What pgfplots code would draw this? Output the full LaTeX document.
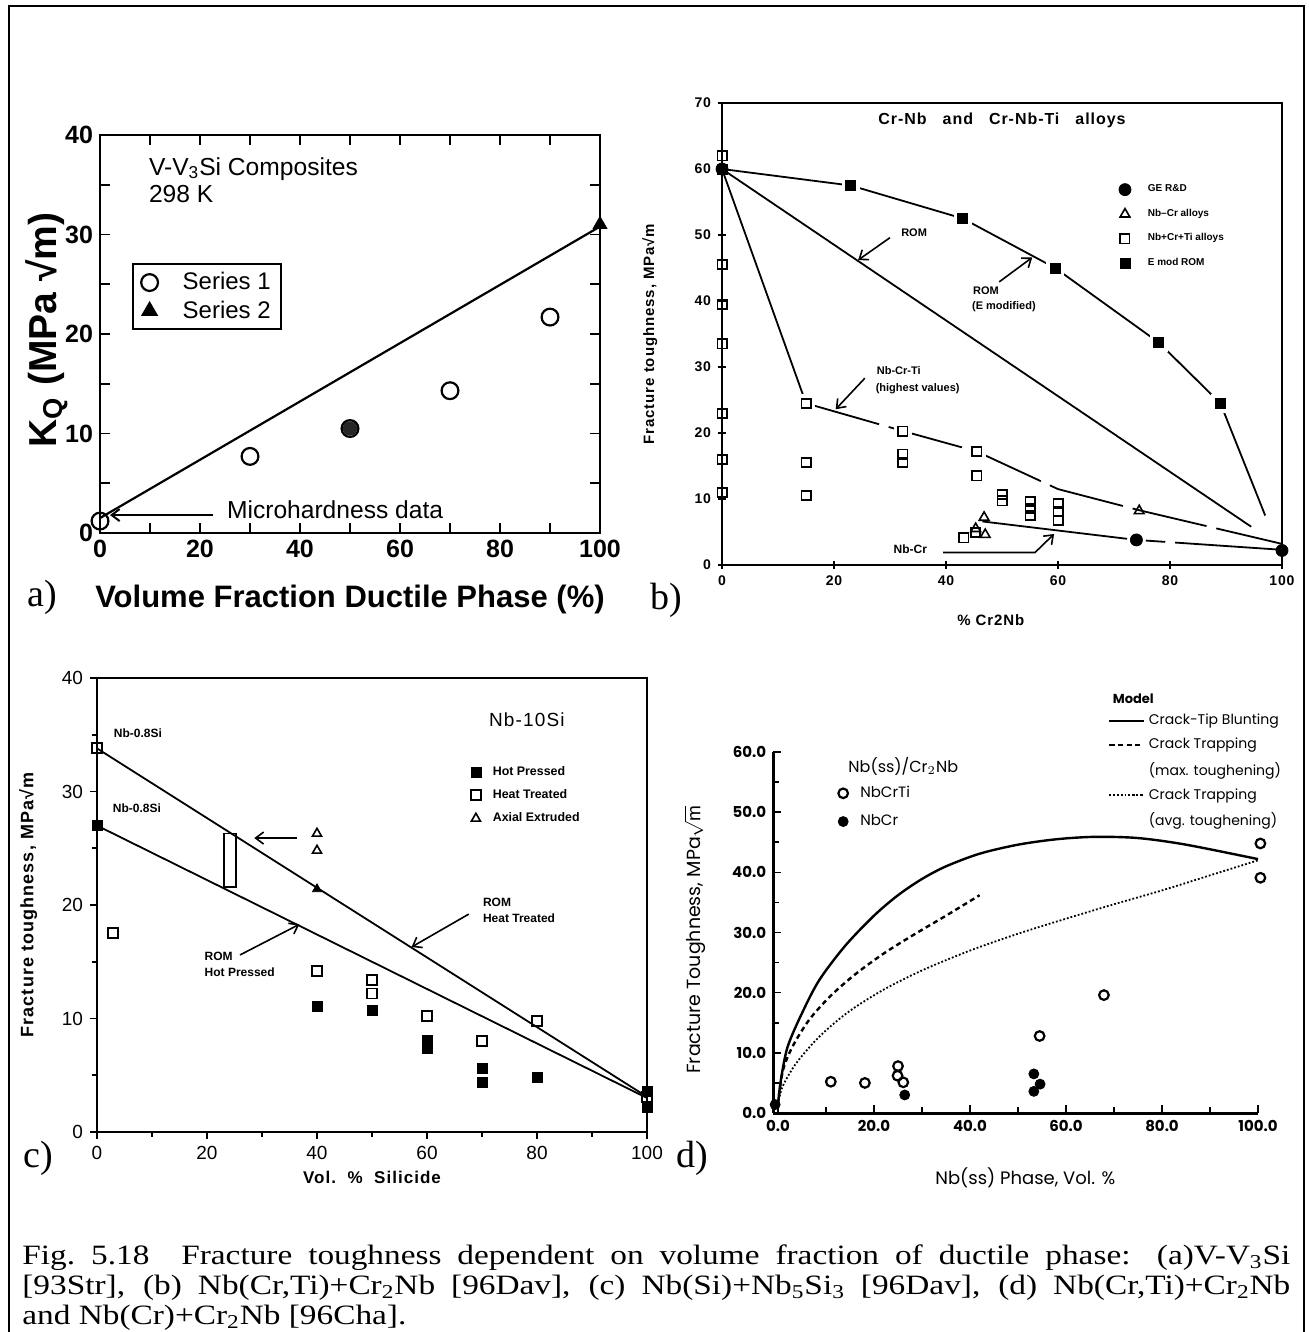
\documentclass[border=0pt]{standalone}
\usepackage{fontspec}
\setmainfont{Liberation Sans}
\newfontfamily\serif{Liberation Serif}
\newfontfamily\capfont[FakeStretch=1.19]{Liberation Serif}
\newfontfamily\geo{Poppins}
\usepackage{pgfplots}
\pgfplotsset{compat=1.18}
\usetikzlibrary{arrows.meta}
\newcommand\fs[1]{\fontsize{#1}{#1}\selectfont}
\newcommand\wide{\addfontfeatures{LetterSpace=6}}
\tikzset{arr/.style={line width=0.8pt,-{Straight Barb[length=4pt,width=6pt]}}}
\pgfplotsset{
 lima/.style={legend image code/.code={\path (0pt,0pt) (19pt,0pt); \draw[##1] plot coordinates {(5pt,0pt)};}},
 limb/.style={legend image code/.code={\path (0pt,0pt) (12pt,0pt); \draw[##1] plot coordinates {(3pt,0pt)};}},
 limc/.style={legend image code/.code={\path (0pt,0pt) (9pt,0pt); \draw[##1] plot coordinates {(3pt,0pt)};}},
}

\begin{document}
\begin{tikzpicture}
\path[use as bounding box] (0pt,0pt) rectangle (654pt,-666pt);
\draw[line width=0.7pt] (4.5pt,-666pt) -- (4.5pt,-3pt) -- (652pt,-3pt) -- (652pt,-666pt);

% ---------- a) V-V3Si
\begin{axis}[at={(50pt,-266.5pt)}, anchor=south west, scale only axis, width=250pt, height=199pt,
 xmin=0,xmax=100,ymin=0,ymax=40, xtick={0,20,...,100}, ytick={0,10,...,40},
 minor x tick num=1, minor y tick num=1, tick align=inside,
 axis line style={line width=1.1pt}, every tick/.style={black,line width=0.9pt},
 major tick length=5pt, minor tick length=5pt,
 /pgf/number format/assume math mode=true,
 ticklabel style={font=\fs{12.5}\bfseries},
 xlabel={Volume Fraction Ductile Phase (\%)}, ylabel={K\textsubscript{Q} (MPa √m)},
 xlabel style={at={(axis description cs:0.5,-0.168)},anchor=center,font=\fs{15.5}\bfseries},
 ylabel style={at={(axis description cs:-0.106,0.51)},anchor=center,font=\fs{19.5}\bfseries},
 clip=false,
 legend style={at={(axis cs:6.3,27.1)},anchor=north west,draw=black,line width=1pt,
   font=\fs{12},inner xsep=3pt,inner ysep=2pt},
 legend cell align=left]
\addplot[only marks, mark=o, mark size=4.2pt, line width=1.1pt, lima] coordinates {(0,1.2)(30,7.7)(50,10.5)(70,14.3)(90,21.7)};
\addlegendentry{Series 1\hspace{14pt}}
\addplot[only marks, mark=triangle*, mark size=4pt, lima] coordinates {(100,31)};
\addlegendentry{Series 2\hspace{14pt}}
\addplot[line width=1.1pt, forget plot] coordinates {(0,1.5)(100,30.8)};
\addplot[only marks, mark=*, mark size=3.4pt, black!85, forget plot] coordinates {(50,10.5)};
\node[anchor=west,font=\fs{12.3}] at (axis cs:8.4,36.6) {V-V\textsubscript{3}Si Composites};
\node[anchor=west,font=\fs{12.3}] at (axis cs:8.4,34.1) {298 K};
\draw[arr,line width=1pt] (axis cs:22.6,1.8) -- (axis cs:2,1.8);
\node[anchor=west,font=\fs{12.3}] at (axis cs:24,2.3) {Microhardness data};
\end{axis}

% ---------- b) Cr-Nb
\begin{axis}[at={(361pt,-282.5pt)}, anchor=south west, scale only axis, width=280pt, height=231pt,
 xmin=0,xmax=100,ymin=0,ymax=70, xtick={0,20,...,100}, ytick={0,10,...,70},
 tick align=center, tick pos=left, major tick length=4pt,
 axis line style={line width=1pt}, every tick/.style={black,line width=0.8pt},
 /pgf/number format/assume math mode=true,
 ticklabel style={font=\fs{7}\bfseries\wide},
 xlabel={\% Cr2Nb}, ylabel={Fracture toughness, MPa√m},
 xlabel style={at={(axis description cs:0.48,-0.119)},anchor=center,font=\fs{7.5}\bfseries\wide},
 ylabel style={at={(axis description cs:-0.129,0.5)},anchor=center,font=\fs{7.5}\bfseries\wide},
 clip=false,
 legend style={at={(axis cs:70.3,58.6)},anchor=north west,draw=none,fill=none,
   font=\fs{5}\bfseries,row sep=3.2pt,inner sep=1pt},
 legend cell align=left]
% lines
\addplot[line width=0.9pt, forget plot] coordinates {(0,60)(23,57.5)(43,52.5)(59.5,45)(78,33.7)(89,24.5)(97,7.5)};
\addplot[line width=0.9pt, forget plot] coordinates {(0,60)(94.5,5.8)};
\addplot[line width=0.9pt, forget plot] coordinates {(0,60)(15,24.5)};
\addplot[line width=0.9pt, dash pattern=on 38pt off 5pt, forget plot] coordinates {(15,24.5)(32.3,20.3)(45.5,17.2)(60,11.5)(74.5,8.3)(100,3.2)};
\addplot[line width=0.9pt, dash pattern=on 75pt off 5pt on 12pt off 5pt, forget plot] coordinates {(46.5,6.6)(74,3.8)(100,2.3)};
% white halos where the lines meet the marks
\addplot[only marks, mark=square*, mark size=4.3pt, white, forget plot] coordinates {(23,57.5)(43,52.5)(59.5,45)(78,33.7)(89,24.5)(15,24.5)(32.3,20.3)(45.5,17.2)};
\addplot[only marks, mark=*, mark size=4.5pt, white, forget plot] coordinates {(74,3.8)};
% marks
\addplot[only marks, mark=*, mark size=3pt, limb] coordinates {(0,60)(74,3.8)(100,2.2)};
\addlegendentry{GE R\&D}
\addplot[only marks, mark=triangle, mark size=2.8pt, line width=0.8pt, limb] coordinates {(46.8,7.2)(45.3,5.5)(47,4.6)(74.5,8.2)};
\addlegendentry{Nb--Cr alloys}
\addplot[only marks, mark=square, mark size=2.3pt, line width=0.9pt, limb] coordinates {
 (0,62)(0,45.5)(0,39.5)(0,33.5)(0,23)(0,16)(0,11)
 (15,24.5)(15,15.5)(15,10.5)(32.3,20.3)(32.3,16.8)(32.3,15.6)
 (45.5,17.2)(45.5,13.5)(43.2,4.1)(45.3,4.9)(50,10.7)(50,9.7)
 (55,9.6)(55,8.6)(55,7.5)(60,9.3)(60,8.1)(60,6.8)};
\addlegendentry{Nb+Cr+Ti alloys}
\addplot[only marks, mark=square*, mark size=2.5pt, limb] coordinates {(0,60)(23,57.5)(43,52.5)(59.5,45)(78,33.7)(89,24.5)};
\addlegendentry{E mod ROM}
\node[font=\fs{8}\bfseries\wide] at (axis cs:50,67.3) {Cr-Nb\quad and\quad Cr-Nb-Ti\quad alloys};
\node[font=\fs{5.5}\bfseries] at (axis cs:34.3,50.4) {ROM};
\draw[arr] (axis cs:30,49.6) -- (axis cs:24.3,46.2);
\node[anchor=west,font=\fs{5.5}\bfseries] at (axis cs:43.6,41.6) {ROM};
\node[anchor=west,font=\fs{5.5}\bfseries] at (axis cs:43.4,39.1) {(E modified)};
\draw[arr] (axis cs:49.5,42.9) -- (axis cs:55.4,46.6);
\node[anchor=west,font=\fs{5.5}\bfseries] at (axis cs:26.4,29.5) {Nb-Cr-Ti};
\node[anchor=west,font=\fs{5.5}\bfseries] at (axis cs:26.2,26.7) {(highest values)};
\draw[arr] (axis cs:25.5,28.3) -- (axis cs:20.3,23.6);
\node[anchor=west,font=\fs{6}\bfseries] at (axis cs:29.4,2.4) {Nb-Cr};
\draw[arr] (axis cs:39.5,1.9) -- (axis cs:55.9,1.9) -- (axis cs:59.3,4.7);
\end{axis}
\node[font=\serif\fs{19}] at (333pt,-300pt) {b)};
\node[font=\serif\fs{19}] at (21pt,-298.5pt) {a)};

% ---------- c) Nb-10Si
\begin{axis}[at={(48.5pt,-566pt)}, anchor=south west, scale only axis, width=275pt, height=227pt,
 xmin=0,xmax=100,ymin=0,ymax=40, xtick={0,20,...,100}, ytick={0,10,...,40},
 minor x tick num=1, minor y tick num=1, tick align=outside, tick pos=left,
 major tick length=3.5pt, minor tick length=2.5pt,
 axis line style={line width=0.9pt}, every tick/.style={black,line width=0.8pt},
 /pgf/number format/assume math mode=true,
 ticklabel style={font=\fs{9.5}},
 xlabel={Vol.\ \ \%\ \ Silicide}, ylabel={Fracture toughness, MPa√m},
 xlabel style={at={(axis description cs:0.5,-0.101)},anchor=center,font=\fs{8.5}\bfseries\wide},
 ylabel style={at={(axis description cs:-0.125,0.5)},anchor=center,font=\fs{9}\bfseries\wide},
 clip=false,
 legend style={at={(axis cs:67.2,32.8)},anchor=north west,draw=none,fill=none,
   font=\fs{6.2}\bfseries,row sep=1.6pt,inner sep=1pt},
 legend cell align=left]
\addplot[line width=0.9pt, forget plot] coordinates {(0,33.8)(100,3.1)};
\addplot[line width=0.9pt, forget plot] coordinates {(0,27)(100,3.0)};
\addplot[only marks, mark=square*, mark size=2.5pt, limc] coordinates {(0,27)(40,11.1)(50,10.7)(60,8.1)(60,7.4)(70,5.6)(70,4.4)(80,4.8)(100,3.6)(100,2.2)};
\addlegendentry{Hot Pressed}
\addplot[only marks, mark=square, mark size=2.5pt, line width=0.9pt, fill=white, limc] coordinates {(0,33.8)(2.9,17.5)(40,14.2)(50,13.4)(50,12.2)(60,10.2)(70,8.0)(80,9.8)(100,3.1)};
\addlegendentry{Heat Treated}
\addplot[only marks, mark=triangle, mark size=2.6pt, line width=0.8pt, limc] coordinates {(40,26.3)(40,24.8)};
\addlegendentry{Axial Extruded}
\addplot[only marks, mark=triangle*, mark size=2.6pt, forget plot] coordinates {(40,21.4)};
\draw[line width=0.8pt] (axis cs:23.1,21.6) rectangle (axis cs:25.3,26.3);
\draw[arr] (axis cs:36.4,25.9) -- (axis cs:28.6,25.9);
\node[anchor=west,font=\fs{6}\bfseries] at (axis cs:1.8,35.1) {Nb-0.8Si};
\node[anchor=west,font=\fs{6}\bfseries] at (axis cs:1.6,28.5) {Nb-0.8Si};
\node[anchor=west,font=\fs{9.5}\wide] at (axis cs:70,36.3) {Nb-10Si};
\node[anchor=west,font=\fs{6}\bfseries] at (axis cs:68.9,20.2) {ROM};
\node[anchor=west,font=\fs{6}\bfseries] at (axis cs:68.9,18.8) {Heat Treated};
\draw[arr] (axis cs:67.6,19.2) -- (axis cs:57.2,16.3);
\node[anchor=west,font=\fs{6}\bfseries] at (axis cs:18.3,15.5) {ROM};
\node[anchor=west,font=\fs{6}\bfseries] at (axis cs:18.3,14.1) {Hot Pressed};
\draw[arr] (axis cs:26,15.6) -- (axis cs:36.8,18.3);
\end{axis}
\node[font=\serif\fs{19}] at (19pt,-579pt) {c)};

% ---------- d) Nb(ss)/Cr2Nb : data points
\begin{axis}[at={(386.6pt,-556.5pt)}, anchor=south west, scale only axis, width=242.4pt, height=180.5pt,
 xmin=-1,xmax=100,ymin=0,ymax=60, xtick={0,20,...,100}, ytick={0,10,...,60},
 minor x tick num=1, minor y tick num=1, tick align=inside,
 axis x line*=bottom, axis y line*=left, axis line style={line width=1.5pt,-},
 major tick length=4pt, minor tick length=3pt, every tick/.style={black,line width=0.8pt},
 /pgf/number format/assume math mode=true,
 xticklabel style={font=\geo\fs{7.5}\bfseries,/pgf/number format/.cd,fixed,fixed zerofill,precision=1},
 yticklabel style={font=\geo\fs{7.5}\bfseries,/pgf/number format/.cd,fixed,fixed zerofill,precision=1},
 xlabel={Nb(ss) Phase, Vol. \%}, ylabel={Fracture Toughness, MPa$\sqrt{\mathrm{m}}$},
 xlabel style={at={(axis description cs:0.52,-0.18)},anchor=center,font=\geo\fs{9}},
 ylabel style={at={(axis description cs:-0.161,0.48)},anchor=center,font=\geo\fs{9.5}},
 clip=false,
 legend style={at={(axis cs:11.6,55.4)},anchor=north west,draw=none,fill=none,
   font=\geo\fs{7.5},row sep=3pt,inner sep=1pt},
 legend cell align=left]
\addplot[only marks, mark=o, mark size=2.4pt, line width=1.1pt, limc] coordinates {(11,5.2)(18.1,5.0)(25,7.8)(24.9,6.2)(26.1,5.1)(54.5,12.8)(67.9,19.6)(100.5,44.8)(100.5,39.1)};
\addlegendentry{NbCrTi}
\addplot[only marks, mark=*, mark size=2.5pt, limc] coordinates {(26.4,3.0)(53.3,6.5)(54.6,4.8)(53.3,3.6)(-0.6,1.4)};
\addlegendentry{NbCr}
\node[anchor=west,font=\geo\fs{8}] at (axis cs:13.2,57.6) {Nb(ss)/Cr$_2$Nb};
\node[anchor=west,font=\geo\fs{6.5}\bfseries] at (axis cs:68.3,68.8) {Model};
\end{axis}

% ---------- d) model curves
\begin{axis}[at={(386.6pt,-556.5pt)}, anchor=south west, scale only axis, width=242.4pt, height=180.5pt,
 xmin=-1,xmax=100,ymin=0,ymax=60, hide axis, clip=false,
 legend style={at={(axis cs:68.3,67.4)},anchor=north west,draw=none,fill=none,
   font=\geo\fs{7},row sep=1.2pt,inner sep=1pt},
 legend cell align=left]
\addplot[line width=1.2pt, smooth] coordinates {(0,1.5)(0.6,5.5)(2,11)(5,16.6)(8.6,22.1)(14,27.8)(20,32.8)(25,36.2)(30,38.9)(35,41)(42,43.1)(50,44.6)(58,45.5)(66,45.9)(75,45.7)(85,44.6)(100,42.2)};
\addlegendentry{Crack-Tip Blunting}
\addplot[line width=1.2pt, dash pattern=on 2.5pt off 1.8pt, smooth] coordinates {(0,1.5)(1,7)(3,11)(6.5,15.5)(11,19.5)(16,23)(22,26.5)(28,29.5)(35,32.8)(42,36.2)};
\addlegendentry{Crack Trapping}
\addlegendimage{empty legend}
\addlegendentry{(max. toughening)}
\addplot[line width=0.9pt, densely dotted, smooth] coordinates {(0,1.5)(1,4.5)(4,8.5)(9,13)(15,17)(22,20.5)(30,23.7)(40,27)(50,29.8)(60,32.3)(70,34.7)(80,37)(90,39.5)(100,42)};
\addlegendentry{Crack Trapping}
\addlegendimage{empty legend}
\addlegendentry{(avg. toughening)}
\end{axis}
\node[font=\serif\fs{19}] at (346pt,-579pt) {d)};

% ---------- caption
\begin{scope}[every node/.style={anchor=base west, inner sep=0pt, font=\capfont\fs{14}}]
\node at (11pt,-632pt) {\makebox[634pt][s]{Fig.~5.18\ \ Fracture toughness dependent on volume fraction of ductile phase: (a)V-V\textsubscript{3}Si}};
\node at (11pt,-647pt) {\makebox[634pt][s]{[93Str], (b) Nb(Cr,Ti)+Cr\textsubscript{2}Nb [96Dav], (c) Nb(Si)+Nb\textsubscript{5}Si\textsubscript{3} [96Dav], (d) Nb(Cr,Ti)+Cr\textsubscript{2}Nb}};
\node at (11pt,-662pt) {and Nb(Cr)+Cr\textsubscript{2}Nb [96Cha].};
\end{scope}
\end{tikzpicture}
\end{document}
